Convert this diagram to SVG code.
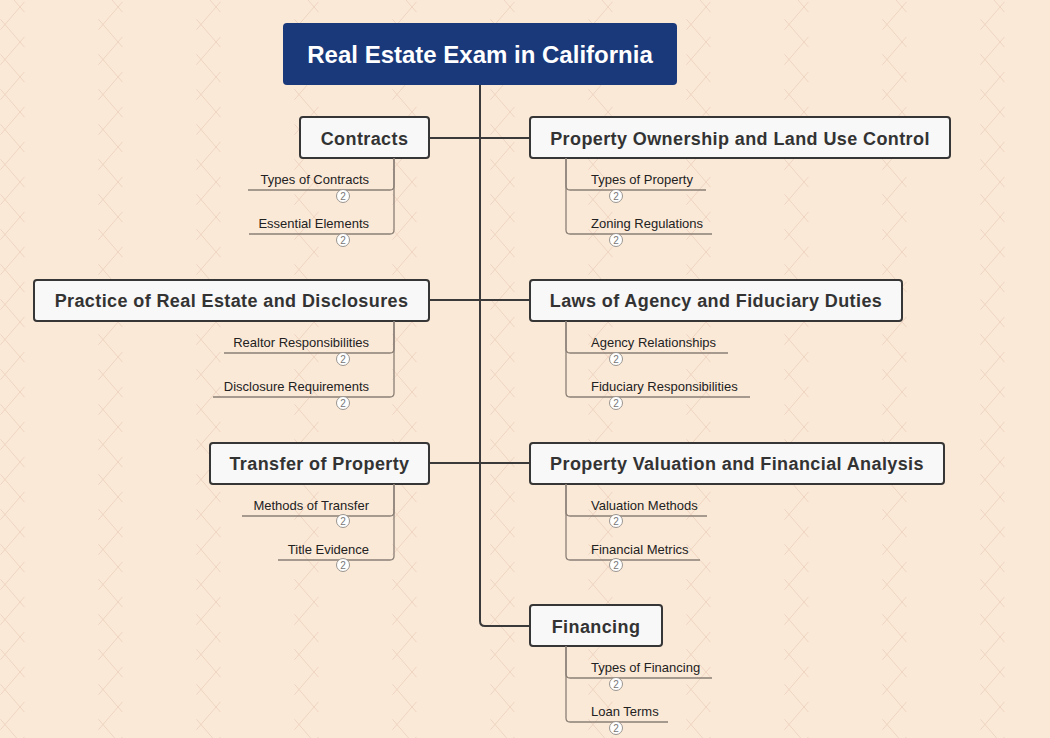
<svg xmlns="http://www.w3.org/2000/svg" width="1050" height="738" viewBox="0 0 1050 738">
<defs>
<pattern id="bgp" patternUnits="userSpaceOnUse" width="98" height="35">
<g stroke="#eed4c1" stroke-width="1" fill="none">
<line x1="0.5" y1="-15.7" x2="24.5" y2="12.2"/>
<line x1="24.5" y1="1.8" x2="0.5" y2="29.7"/>
<line x1="0.5" y1="19.3" x2="24.5" y2="47.2"/>
</g>
</pattern>
<style>
.main rect{fill:#f8f8f8;stroke:#363636;stroke-width:2}
.main text{font-family:"Liberation Sans",Arial,sans-serif;font-weight:bold;font-size:18px;fill:#333;text-anchor:middle;letter-spacing:0.4px}
.sub text.l{font-family:"Liberation Sans",Arial,sans-serif;font-size:13px;fill:#222}
.sub path{fill:none;stroke:#8a7f76;stroke-width:1.3}
.sub circle{fill:#fff;stroke:#9a9590;stroke-width:1}
.sub text.b{font-family:"Liberation Sans",Arial,sans-serif;font-size:10px;fill:#777;text-anchor:middle}
.conn path{fill:none;stroke:#3a3a3a;stroke-width:2}
</style>
</defs>
<rect width="1050" height="738" fill="#fbe9d7"/>
<rect width="1050" height="738" fill="url(#bgp)"/>

<g id="connectors" class="conn">
<path d="M480,85 V621 Q480,626 485,626 H530"/>
<path d="M429,138 H530"/>
<path d="M429,300 H530"/>
<path d="M429,463 H530"/>
</g>

<g id="root">
<rect x="283" y="23" width="394" height="62" rx="4" fill="#19397b"/>
<text x="480" y="63" font-family="Liberation Sans,Arial,sans-serif" font-weight="bold" font-size="24" fill="#fff" text-anchor="middle">Real Estate Exam in California</text>
</g>

<g id="contracts" class="main">
<rect x="300" y="117" width="129" height="41" rx="3"/>
<text x="364.5" y="145">Contracts</text>
</g>
<g id="contracts-subs" class="sub">
<path d="M394,158 V186 Q394,190 390,190 H248"/>
<path d="M394,158 V230 Q394,234 390,234 H249"/>
<text class="l" x="369" y="184" text-anchor="end">Types of Contracts</text>
<text class="l" x="369" y="228" text-anchor="end">Essential Elements</text>
<circle cx="343" cy="196" r="6.5"/><text class="b" x="343" y="199.5">2</text>
<circle cx="343" cy="240" r="6.5"/><text class="b" x="343" y="243.5">2</text>
</g>

<g id="practice" class="main">
<rect x="34" y="280" width="395" height="41" rx="3"/>
<text x="231.5" y="307">Practice of Real Estate and Disclosures</text>
</g>
<g id="practice-subs" class="sub">
<path d="M394,321 V349 Q394,353 390,353 H224"/>
<path d="M394,321 V393 Q394,397 390,397 H213"/>
<text class="l" x="369" y="347" text-anchor="end">Realtor Responsibilities</text>
<text class="l" x="369" y="391" text-anchor="end">Disclosure Requirements</text>
<circle cx="343" cy="359" r="6.5"/><text class="b" x="343" y="362.5">2</text>
<circle cx="343" cy="403" r="6.5"/><text class="b" x="343" y="406.5">2</text>
</g>

<g id="transfer" class="main">
<rect x="210" y="443" width="219" height="41" rx="3"/>
<text x="319.5" y="470">Transfer of Property</text>
</g>
<g id="transfer-subs" class="sub">
<path d="M394,484 V512 Q394,516 390,516 H242"/>
<path d="M394,484 V556 Q394,560 390,560 H278"/>
<text class="l" x="369" y="510" text-anchor="end">Methods of Transfer</text>
<text class="l" x="369" y="554" text-anchor="end">Title Evidence</text>
<circle cx="343" cy="521" r="6.5"/><text class="b" x="343" y="524.5">2</text>
<circle cx="343" cy="565" r="6.5"/><text class="b" x="343" y="568.5">2</text>
</g>

<g id="ownership" class="main">
<rect x="530" y="117" width="420" height="41" rx="3"/>
<text x="740" y="145">Property Ownership and Land Use Control</text>
</g>
<g id="ownership-subs" class="sub">
<path d="M566,158 V186 Q566,190 570,190 H706"/>
<path d="M566,158 V230 Q566,234 570,234 H712"/>
<text class="l" x="591" y="184">Types of Property</text>
<text class="l" x="591" y="228">Zoning Regulations</text>
<circle cx="616" cy="196" r="6.5"/><text class="b" x="616" y="199.5">2</text>
<circle cx="616" cy="240" r="6.5"/><text class="b" x="616" y="243.5">2</text>
</g>

<g id="agency" class="main">
<rect x="530" y="280" width="372" height="41" rx="3"/>
<text x="716" y="307">Laws of Agency and Fiduciary Duties</text>
</g>
<g id="agency-subs" class="sub">
<path d="M566,321 V349 Q566,353 570,353 H728"/>
<path d="M566,321 V393 Q566,397 570,397 H750"/>
<text class="l" x="591" y="347">Agency Relationships</text>
<text class="l" x="591" y="391">Fiduciary Responsibilities</text>
<circle cx="616" cy="359" r="6.5"/><text class="b" x="616" y="362.5">2</text>
<circle cx="616" cy="403" r="6.5"/><text class="b" x="616" y="406.5">2</text>
</g>

<g id="valuation" class="main">
<rect x="530" y="443" width="414" height="41" rx="3"/>
<text x="737" y="470">Property Valuation and Financial Analysis</text>
</g>
<g id="valuation-subs" class="sub">
<path d="M566,484 V512 Q566,516 570,516 H707"/>
<path d="M566,484 V556 Q566,560 570,560 H700"/>
<text class="l" x="591" y="510">Valuation Methods</text>
<text class="l" x="591" y="554">Financial Metrics</text>
<circle cx="616" cy="521" r="6.5"/><text class="b" x="616" y="524.5">2</text>
<circle cx="616" cy="565" r="6.5"/><text class="b" x="616" y="568.5">2</text>
</g>

<g id="financing" class="main">
<rect x="530" y="605" width="132" height="41" rx="3"/>
<text x="596" y="633">Financing</text>
</g>
<g id="financing-subs" class="sub">
<path d="M566,646 V674 Q566,678 570,678 H712"/>
<path d="M566,646 V718 Q566,722 570,722 H668"/>
<text class="l" x="591" y="672">Types of Financing</text>
<text class="l" x="591" y="716">Loan Terms</text>
<circle cx="616" cy="684" r="6.5"/><text class="b" x="616" y="687.5">2</text>
<circle cx="616" cy="728" r="6.5"/><text class="b" x="616" y="731.5">2</text>
</g>
</svg>
